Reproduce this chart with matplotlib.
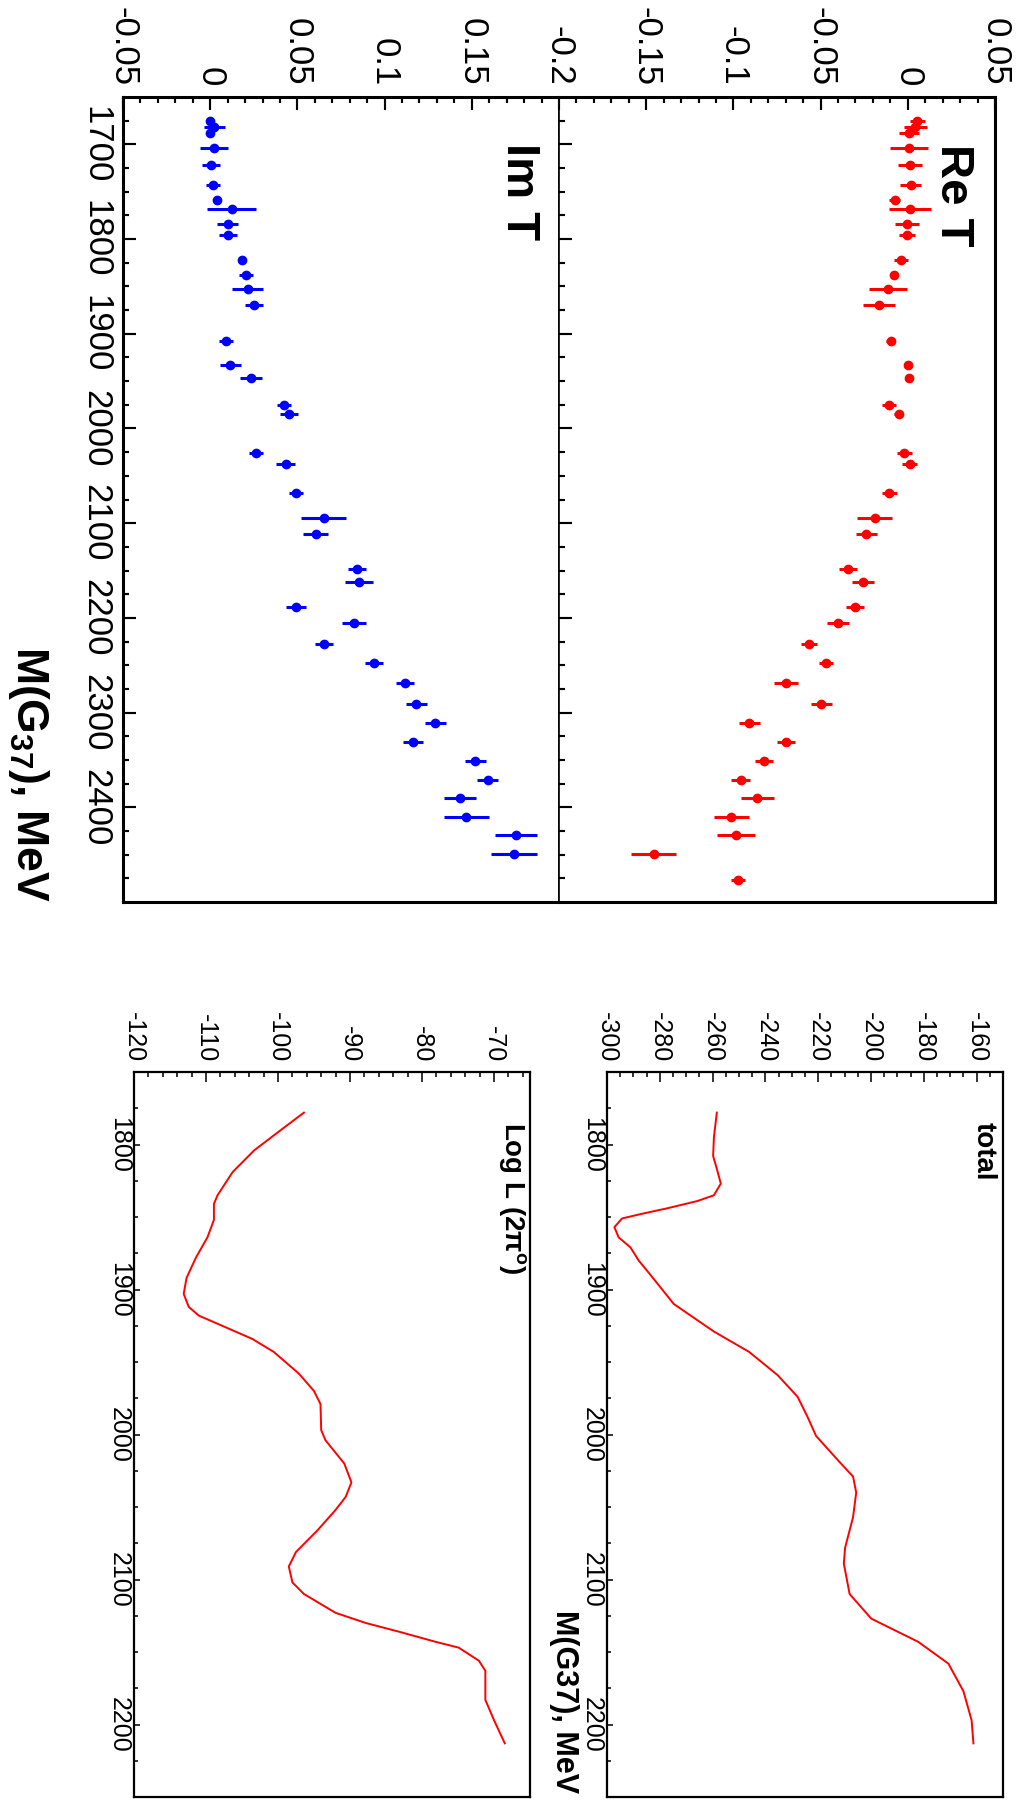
import matplotlib
matplotlib.use("Agg")
import matplotlib.pyplot as plt
import numpy as np

plt.rcParams['font.family'] = ['Liberation Sans', 'DejaVu Sans']
plt.rcParams['mathtext.fontset'] = 'custom'
plt.rcParams['mathtext.rm'] = 'Liberation Sans'
plt.rcParams['mathtext.bf'] = 'Liberation Sans:bold'
plt.rcParams['mathtext.it'] = 'Liberation Sans:italic'

# --- amplitude points (left block) ---
m_re = [1675, 1682, 1688, 1704, 1722, 1743, 1759, 1768, 1784, 1796, 1822, 1838, 1853, 1870,
        1908, 1933, 1947, 1975, 1985, 2026, 2038, 2068, 2095, 2111, 2148, 2162,
        2188, 2205, 2228, 2248, 2269, 2291, 2311, 2331, 2351, 2371, 2390, 2410, 2429, 2449, 2477]
re_t = [0.0053, 0.0044, 0.0006, 0.0006, 0.0013, 0.0017, -0.0076, 0.0013, -0.0002, -0.0004,
        -0.0038, -0.0078, -0.0113, -0.0166, -0.0099, 0.0004, 0.0006, -0.0107, -0.0052, -0.0019,
        0.0010, -0.0105, -0.0189, -0.0237, -0.0344, -0.0256,
        -0.0304, -0.0400, -0.0568, -0.0471, -0.0698, -0.0497, -0.0910, -0.0698, -0.0825, -0.0959,
        -0.0862, -0.1011, -0.0985, -0.1457, -0.0974]
re_err = [0.0043, 0.0067, 0.0057, 0.0108, 0.0067, 0.0060, 0.0030, 0.0120, 0.0069, 0.0048,
          0.0040, 0.0020, 0.0110, 0.0090, 0.0028, 0.0020, 0.0020, 0.0040, 0.0026, 0.0044,
          0.0042, 0.0042, 0.0100, 0.0060, 0.0050, 0.0062,
          0.0050, 0.0065, 0.0047, 0.0040, 0.0069, 0.0060, 0.0060, 0.0050, 0.0052, 0.0056,
          0.0093, 0.0099, 0.0108, 0.0130, 0.0040]

m_im = m_re[:40]
im_t = [0.0, 0.0023, 0.0, 0.0023, 0.0004, 0.0014, 0.0037, 0.0124, 0.0101, 0.0101,
        0.0184, 0.0205, 0.0214, 0.0252, 0.0092, 0.0115, 0.0233, 0.0423, 0.0453, 0.0264,
        0.0432, 0.0493, 0.0650, 0.0604, 0.0841, 0.0853,
        0.0493, 0.0824, 0.0653, 0.0940, 0.1118, 0.1182, 0.1290, 0.1163, 0.1520, 0.1592,
        0.1431, 0.1468, 0.1752, 0.1741]
im_err = [0.0020, 0.0059, 0.0020, 0.0080, 0.0050, 0.0040, 0.0020, 0.0140, 0.0060, 0.0050,
          0.0020, 0.0040, 0.0090, 0.0050, 0.0040, 0.0060, 0.0062, 0.0040, 0.0052, 0.0040,
          0.0052, 0.0040, 0.0129, 0.0074, 0.0052, 0.0081,
          0.0056, 0.0071, 0.0050, 0.0050, 0.0050, 0.0060, 0.0060, 0.0060, 0.0060, 0.0060,
          0.0091, 0.0130, 0.0120, 0.0130]

# --- likelihood scans (right block) ---
m_logl = [1778, 1790, 1804, 1819, 1835, 1841, 1852, 1864, 1878, 1892, 1903, 1912, 1918, 1926,
          1934, 1943, 1958, 1970, 1979, 1997, 2004, 2020, 2033, 2043, 2052, 2066, 2081, 2091,
          2102, 2110, 2123, 2130, 2136, 2143, 2147, 2156, 2163, 2183, 2197, 2213]
logl = [-96.4, -99.6, -103.3, -106.3, -108.4, -108.9, -108.9, -109.8, -111.4, -112.7, -113.1,
        -112.4, -111.0, -107.3, -103.6, -100.6, -97.1, -95.0, -94.1, -94.0, -93.4, -90.8, -89.8,
        -90.6, -92.0, -94.5, -97.5, -98.5, -98.0, -96.4, -92.0, -87.8, -83.2, -78.1, -74.9,
        -72.1, -71.2, -71.2, -70.0, -68.5]

m_total = [1778, 1795, 1808, 1818, 1827, 1835, 1839, 1844, 1848, 1851, 1857, 1864, 1871, 1880,
           1890, 1910, 1929, 1943, 1959, 1974, 1988, 2001, 2019, 2029, 2040, 2057, 2078, 2089,
           2110, 2127, 2143, 2158, 2177, 2197, 2213]
total = [-258.4, -259.5, -259.8, -258.2, -256.9, -259.5, -265.8, -277.2, -287.3, -294.3, -297.2,
         -295.6, -291.1, -288.0, -283.5, -274.7, -259.5, -246.2, -235.4, -227.8, -224.0, -220.8,
         -211.9, -206.8, -205.6, -206.8, -209.8, -210.3, -208.1, -199.9, -182.1, -170.7, -165.0,
         -161.9, -161.2]

re_ticks = [-0.2, -0.15, -0.1, -0.05, 0, 0.05]
re_labels = ["-0.2", "-0.15", "-0.1", "-0.05", "0", "0.05"]
im_ticks = [-0.05, 0, 0.05, 0.1, 0.15]
im_labels = ["-0.05", "0", "0.05", "0.1", "0.15"]
m_ticks_left = [1700, 1800, 1900, 2000, 2100, 2200, 2300, 2400]
m_ticks_right = [1800, 1900, 2000, 2100, 2200]
logl_ticks = [-120, -110, -100, -90, -80, -70]
total_ticks = [-300, -280, -260, -240, -220, -200, -180, -160]

W, H = 1017, 1804


def box(x0, x1, y0, y1):
    # pixel box (top-left origin) -> figure fraction
    return [x0 / W, 1 - y1 / H, (x1 - x0) / W, (y1 - y0) / H]


def setup_axes(ax, xlim, ylim, xticks, xlabels, xminor, yticks, yminor, ylabels_on,
               fs, lw, xpad, ypad, big=True):
    ax.set_xlim(*xlim)
    ax.set_ylim(*ylim)
    ax.xaxis.set_ticks_position('top')
    ax.set_xticks(xticks, labels=xlabels)
    ax.set_xticks(xminor, minor=True)
    ax.set_yticks(yticks, labels=[str(t) for t in yticks])
    ax.set_yticks(yminor, minor=True)
    if big:
        maj, mnr = (9, 4)
    else:
        maj, mnr = (7, 3.5)
    ax.tick_params(axis='x', which='both', direction='in', top=True, bottom=False,
                   labeltop=True, labelbottom=False, labelrotation=-90,
                   labelsize=fs, pad=xpad, width=lw * 0.7)
    ax.tick_params(axis='x', which='major', length=maj)
    ax.tick_params(axis='x', which='minor', length=mnr)
    ax.tick_params(axis='y', which='both', direction='in', left=True, right=False,
                   labelleft=ylabels_on, labelrotation=-90, labelsize=fs, pad=ypad,
                   width=lw * 0.7)
    ax.tick_params(axis='y', which='major', length=maj if big else 4)
    ax.tick_params(axis='y', which='minor', length=mnr if big else 3)
    for lbl in ax.get_yticklabels():
        lbl.set_va('center')
    for s in ax.spines.values():
        s.set_linewidth(lw)


fig = plt.figure(figsize=(W / 100, H / 100), dpi=100)

ax_im = fig.add_axes(box(123, 559, 97, 902))
ax_re = fig.add_axes(box(559, 995, 97, 902))

m_minor_left = np.arange(1675, 2500, 25)
setup_axes(ax_im, (-0.05, 0.2), (2500, 1650), im_ticks, im_labels, np.arange(-0.05, 0.2, 0.01),
           m_ticks_left, m_minor_left, True, 25, 2.2, 8, 8)
setup_axes(ax_re, (-0.2, 0.05), (2500, 1650), re_ticks, re_labels, np.arange(-0.2, 0.05, 0.01),
           m_ticks_left, m_minor_left, False, 25, 2.2, 8, 8)
ax_im.spines['right'].set_linewidth(1.2)
ax_re.spines['left'].set_linewidth(1.2)

ax_re.errorbar(re_t, m_re, xerr=re_err, fmt='o', color='#ff0000', ms=6, elinewidth=2.2,
               capsize=0)
ax_im.errorbar(im_t, m_im, xerr=im_err, fmt='o', color='#0000ff', ms=6, elinewidth=2.2,
               capsize=0)

ax_re.text(0.904, 0.878, "Re T", transform=ax_re.transAxes, rotation=-90, fontsize=34,
           fontweight='bold', ha='center', va='center')
ax_im.text(0.908, 0.883, "Im T", transform=ax_im.transAxes, rotation=-90, fontsize=34,
           fontweight='bold', ha='center', va='center')
fig.text(28 / W, 0.5, r"M(G$_{\mathbf{37}}$), MeV", rotation=-90, fontsize=32,
         fontweight='bold', ha='center', va='bottom')

# right block
ax_l = fig.add_axes(box(134, 530, 1072, 1797))
ax_t = fig.add_axes(box(607, 1003, 1072, 1797))
m_minor_right = np.arange(1750, 2250, 25)
setup_axes(ax_l, (-120, -65), (2250, 1750), logl_ticks, [str(t) for t in logl_ticks],
           np.arange(-120, -65, 2), m_ticks_right, m_minor_right, True, 18, 1.6, 7, 2, big=False)
setup_axes(ax_t, (-300, -150), (2250, 1750), total_ticks, [str(t) for t in total_ticks],
           np.arange(-300, -150, 5), m_ticks_right, m_minor_right, True, 18, 1.6, 7, 2, big=False)

ax_l.plot(logl, m_logl, color='#ff0000', lw=1.4)
ax_t.plot(total, m_total, color='#ff0000', lw=1.4)

ax_l.text(0.955, 0.931, "Log L (2π$^{\\mathbf{o}}$)", transform=ax_l.transAxes,
          rotation=-90, fontsize=20, fontweight='bold', ha='center', va='top')
ax_t.text(0.952, 0.931, "total", transform=ax_t.transAxes, rotation=-90,
          fontsize=20, fontweight='bold', ha='center', va='top')
fig.text(564 / W, 11 / H, "M(G37), MeV", rotation=-90, fontsize=22, fontweight='bold',
         ha='center', va='bottom')

fig.savefig("out.png", dpi=100)
